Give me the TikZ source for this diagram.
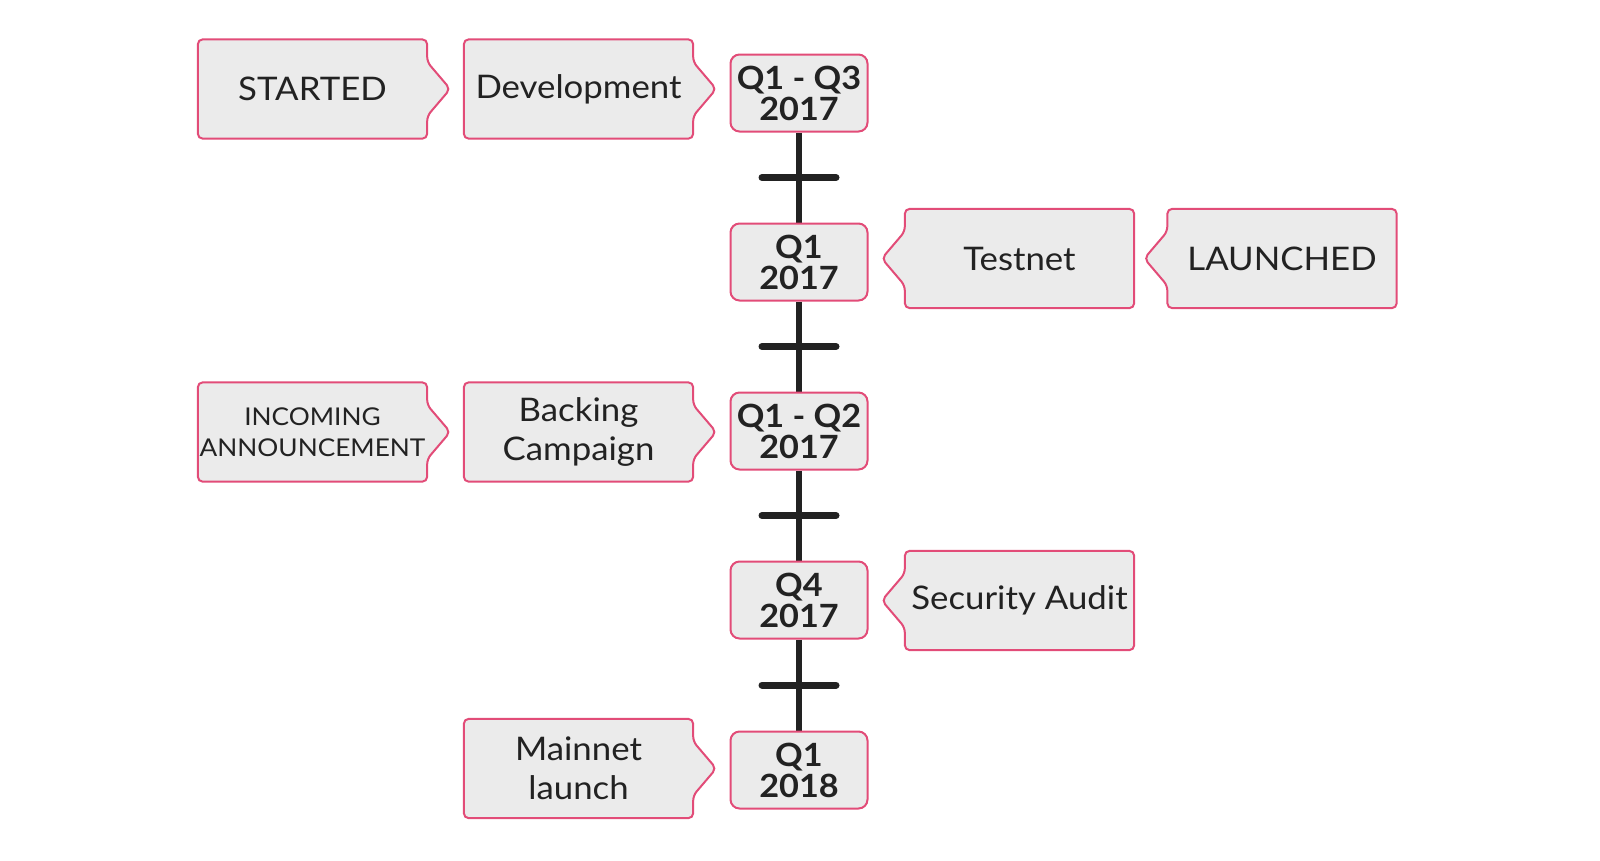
\documentclass[tikz,border=0pt]{standalone}
\usepackage{fontspec}
\setmainfont{Lato}[FakeStretch=1.07]
\usetikzlibrary{calc,backgrounds}
\definecolor{pinkb}{HTML}{E24C78}
\definecolor{boxf}{HTML}{EBEBEB}
\definecolor{tl}{HTML}{222222}
\newcommand\ptright[1]{\path[shapeline] (#1.north west) -- (#1.north east) -- ([yshift=27pt]#1.east) -- ([xshift=23pt]#1.east) -- ([yshift=-27pt]#1.east) -- (#1.south east) -- (#1.south west) -- cycle;}
\newcommand\ptleft[1]{\path[shapeline] (#1.north east) -- (#1.north west) -- ([yshift=27pt]#1.west) -- ([xshift=-23pt]#1.west) -- ([yshift=-27pt]#1.west) -- (#1.south west) -- (#1.south east) -- cycle;}
\begin{document}
\begin{tikzpicture}[x=1pt,y=-1pt,
 datebox/.style={draw=pinkb, fill=boxf, line width=2pt, rounded corners=9pt, minimum width=137pt, minimum height=77pt, inner sep=0pt, align=center, font=\bfseries\fontsize{32}{32}\selectfont, text=tl},
 sidebox/.style={minimum width=229pt, minimum height=99pt, inner sep=0pt, align=center, font=\fontsize{32.5}{39}\selectfont, text=tl},
 shapeline/.style={draw=pinkb, fill=boxf, line width=2pt, rounded corners=5pt},
 tickmark/.style={line width=7pt, draw=tl, line cap=round},
 tline/.style={line width=6pt, draw=tl}]
\useasboundingbox (0,0) rectangle (1600,860);
\node[datebox] (d1) at (799,93) {Q1 - Q3\\[-1pt]2017};
\node[datebox] (d2) at (799,262) {Q1\\[-1pt]2017};
\node[datebox] (d3) at (799,431) {Q1 - Q2\\[-1pt]2017};
\node[datebox] (d4) at (799,600) {Q4\\[-1pt]2017};
\node[datebox] (d5) at (799,770) {Q1\\[-1pt]2018};

\node[sidebox] (s1) at (312.5,89) {STARTED};
\node[sidebox] (s2) at (578.5,89) {Development};
\node[sidebox] (s3) at (1019.5,258.5) {Testnet};
\node[sidebox] (s4) at (1282,258.5) {LAUNCHED};
\node[sidebox, font=\fontsize{24.5}{31}\selectfont] (s5) at (312.5,432) {INCOMING\\ANNOUNCEMENT};
\node[sidebox] (s6) at (578.5,432) {Backing\\Campaign};
\node[sidebox] (s7) at (1019.5,600.5) {Security Audit};
\node[sidebox] (s8) at (578.5,768.5) {Mainnet\\launch};

\begin{scope}[on background layer]
\ptright{s1}\ptright{s2}\ptright{s5}\ptright{s6}\ptright{s8}
\ptleft{s3}\ptleft{s4}\ptleft{s7}
\draw[tline] (d1) -- (d2);
\draw[tline] (d2) -- (d3);
\draw[tline] (d3) -- (d4);
\draw[tline] (d4) -- (d5);
\end{scope}
\foreach \a/\b in {d1/d2,d2/d3,d3/d4,d4/d5}{
  \draw[tickmark] ($(\a)!0.5!(\b)$) +(-37,0) -- +(37,0);
}
\end{tikzpicture}
\end{document}
